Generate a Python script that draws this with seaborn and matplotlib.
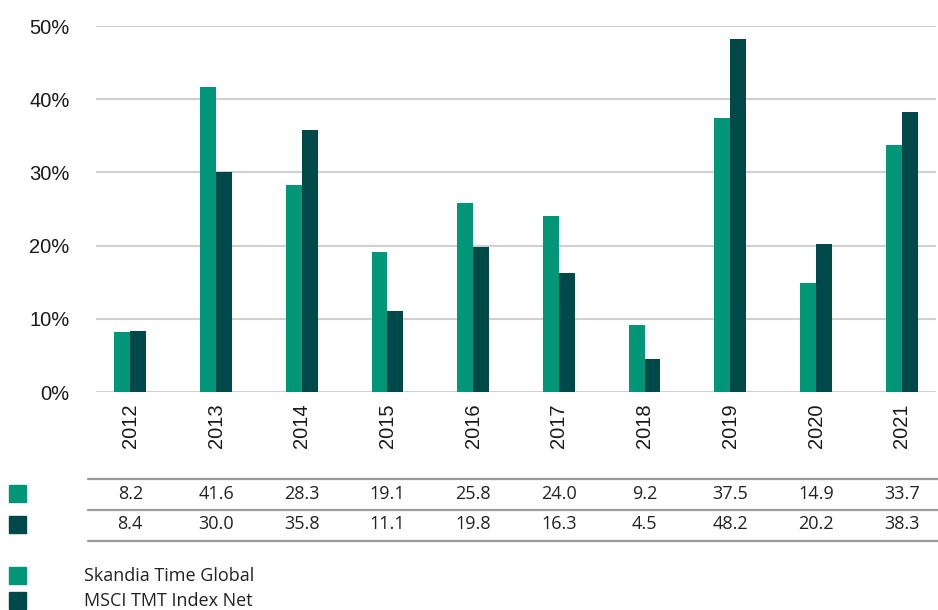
import matplotlib
matplotlib.use("Agg")
import matplotlib.pyplot as plt
import pandas as pd
import seaborn as sns
from matplotlib.lines import Line2D
from matplotlib.patches import Rectangle
from matplotlib.ticker import PercentFormatter

years = ["2012", "2013", "2014", "2015", "2016", "2017", "2018", "2019", "2020", "2021"]
skandia = [8.2, 41.6, 28.3, 19.1, 25.8, 24.0, 9.2, 37.5, 14.9, 33.7]
msci = [8.4, 30.0, 35.8, 11.1, 19.8, 16.3, 4.5, 48.2, 20.2, 38.3]
series_names = ["Skandia Time Global", "MSCI TMT Index Net"]
colors = ["#009677", "#00494a"]

df = pd.DataFrame({
    "year": years * 2,
    "value": skandia + msci,
    "series": [series_names[0]] * len(years) + [series_names[1]] * len(years),
})

sns.set_style("white")
plt.rcParams["font.family"] = ["Liberation Sans", "DejaVu Sans"]

W, H = 938, 610
fig = plt.figure(figsize=(W / 100, H / 100), dpi=100)
ax = fig.add_axes([96 / W, (H - 392) / H, 840 / W, 366 / H])

sns.barplot(data=df, x="year", y="value", hue="series", palette=colors,
            width=0.37, saturation=1, linewidth=0, legend=False, ax=ax)

ax.set_ylim(0, 50)
ax.set_xlim(-0.4, 9.4)
ax.set_yticks(range(0, 51, 10))
ax.yaxis.set_major_formatter(PercentFormatter(decimals=0))
ax.grid(axis="y", color="#d0d0d0", linewidth=1.5)
ax.set_axisbelow(True)
for s in ax.spines.values():
    s.set_visible(False)
ax.tick_params(axis="y", length=0, pad=19, labelsize=14.5, labelcolor="#1a1a1a")
ax.tick_params(axis="x", length=0, pad=8, labelsize=14.5, labelcolor="#1a1a1a")
plt.setp(ax.get_xticklabels(), rotation=90)
ax.set_xlabel("")
ax.set_ylabel("")

# table under the chart
tfont = ["Open Sans", "DejaVu Sans"]
trans = ax.get_xaxis_transform()
row_y = [494, 524]
for vals, yy in zip([skandia, msci], row_y):
    for i, v in enumerate(vals):
        ax.text(i, 1 - (yy - 26) / 366, f"{v:.1f}", transform=trans,
                ha="center", va="center", fontsize=13, family=tfont,
                color="#222222", clip_on=False)
for ly in [479, 510, 541]:
    fig.add_artist(Line2D([88 / W, 938 / W], [1 - ly / H, 1 - ly / H],
                          color="#9a9a9a", linewidth=1.6))

# colour keys next to table rows
for c, yy in zip(colors, [485, 516]):
    fig.add_artist(Rectangle((9 / W, 1 - (yy + 17) / H), 17 / W, 17 / H,
                             color=c, transform=fig.transFigure))

# legend
for c, name, yy in zip(colors, series_names, [567, 592]):
    fig.add_artist(Rectangle((9 / W, 1 - (yy + 17) / H), 17 / W, 17 / H,
                             color=c, transform=fig.transFigure))
    fig.text(84 / W, 1 - (yy + 9) / H, name, ha="left", va="center",
             fontsize=13, family=tfont, color="#222222")

fig.savefig("out.png", dpi=100)
